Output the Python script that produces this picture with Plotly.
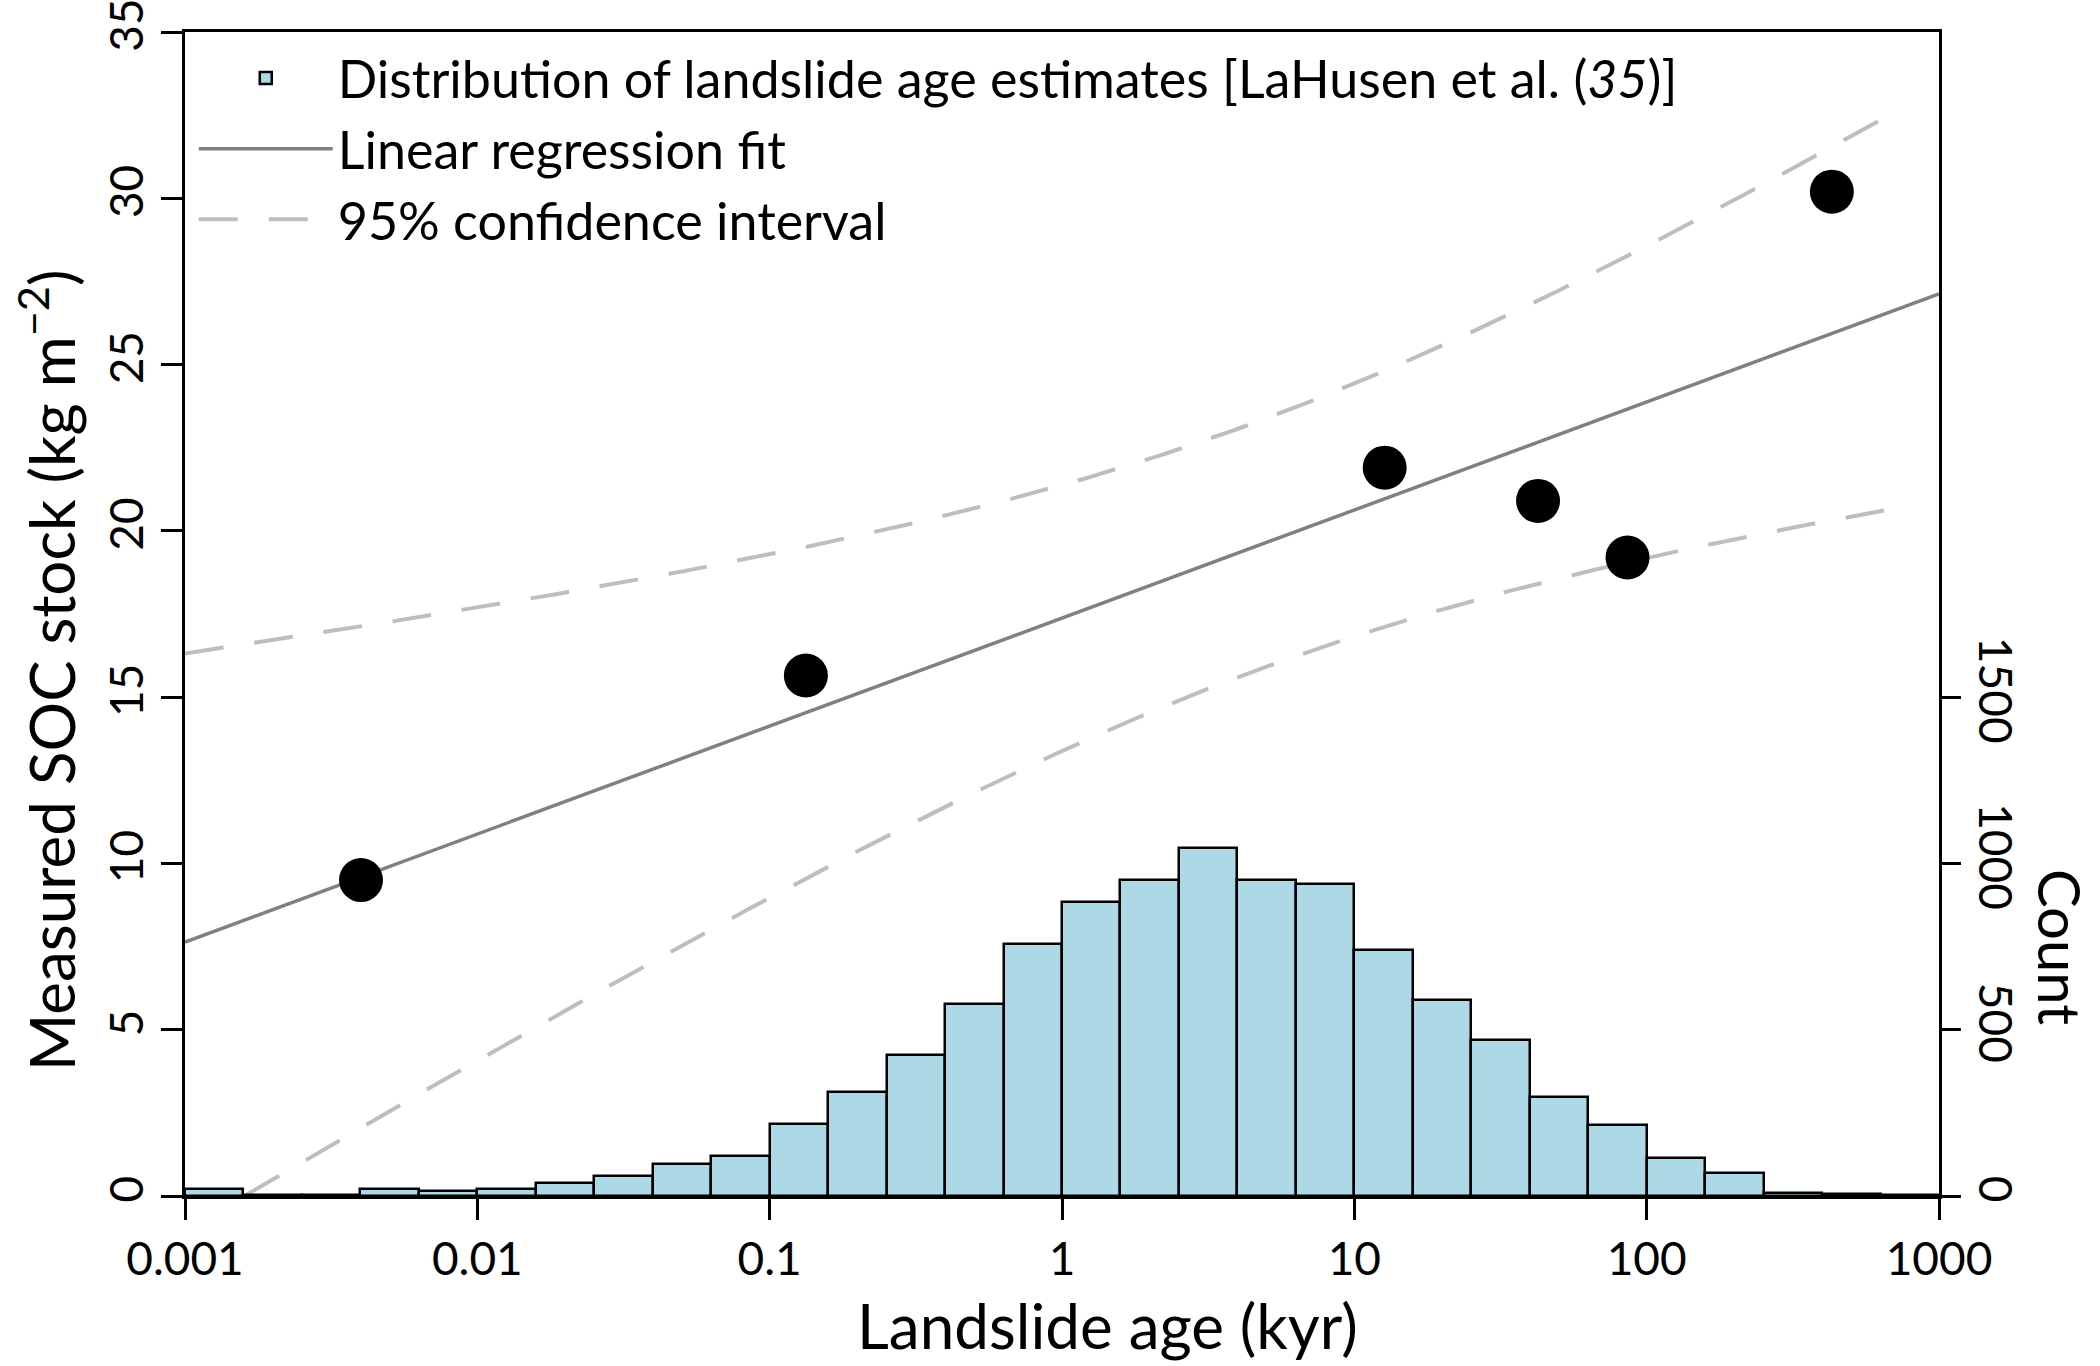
import numpy as np
import plotly.graph_objects as go

# ---------------- data ----------------
# Measured soil organic carbon stock at dated landslides
age_kyr = [0.0040, 0.133, 12.7, 42.5, 86.0, 430.0]
soc_stock = [9.5, 15.65, 21.9, 20.9, 19.2, 30.2]

# Distribution of landslide age estimates [LaHusen et al. (35)] - log10 bins
hist_bin_edges_log10 = [-3.0, -2.8, -2.6, -2.4, -2.2, -2.0, -1.8, -1.6, -1.4, -1.2,
                        -1.0, -0.8, -0.6, -0.4, -0.2, 0.0, 0.2, 0.4, 0.6, 0.8,
                        1.0, 1.2, 1.4, 1.6, 1.8, 2.0, 2.2, 2.4, 2.6, 2.8, 3.0]
hist_counts = [22, 4, 4, 20, 15, 21, 40, 59, 95, 121,
               217, 313, 423, 577, 758, 883, 950, 1045, 950, 938,
               741, 589, 468, 299, 214, 114, 68, 8, 5, 2]

# axis definitions
x_tick_vals = [0.001, 0.01, 0.1, 1, 10, 100, 1000]
x_tick_text = ["0.001", "0.01", "0.1", "1", "10", "100", "1000"]
y_tick_vals = [0, 5, 10, 15, 20, 25, 30, 35]
count_tick_vals = [0, 500, 1000, 1500]
x_range_kyr = [0.001, 1000]
ci_range_kyr = [0.001, 720]
t_975_df4 = 2.7764

# ---------------- fit ----------------
lx = np.log10(np.array(age_kyr))
yv = np.array(soc_stock)
n = len(lx)
b1, b0 = np.polyfit(lx, yv, 1)
resid = yv - (b0 + b1 * lx)
s = np.sqrt(np.sum(resid ** 2) / (n - 2))
sxx = np.sum((lx - lx.mean()) ** 2)

fit_lx = np.linspace(np.log10(x_range_kyr[0]), np.log10(x_range_kyr[1]), 50)
fit_y = b0 + b1 * fit_lx

ci_lx = np.linspace(np.log10(ci_range_kyr[0]), np.log10(ci_range_kyr[1]), 300)
ci_center = b0 + b1 * ci_lx
ci_half = t_975_df4 * s * np.sqrt(1.0 / n + (ci_lx - lx.mean()) ** 2 / sxx)
ci_up = ci_center + ci_half
ci_lo = ci_center - ci_half

edges = np.array(hist_bin_edges_log10)
bin_centers = (edges[:-1] + edges[1:]) / 2
bin_widths = np.diff(edges)

FONT = "Lato, 'Open Sans', sans-serif"

fig = go.Figure()

fig.add_trace(go.Bar(
    x=bin_centers, y=hist_counts, width=bin_widths,
    xaxis="x2", yaxis="y2",
    marker=dict(color="#ADD8E6", line=dict(color="black", width=2.5)),
    name="Distribution of landslide age estimates [LaHusen et al. (<i>35</i>)]",
    showlegend=True,
))

fig.add_trace(go.Scatter(
    x=10 ** fit_lx, y=fit_y, mode="lines",
    line=dict(color="#808080", width=3.5),
    name="Linear regression fit",
))

fig.add_trace(go.Scatter(
    x=10 ** ci_lx, y=ci_up, mode="lines",
    line=dict(color="#BEBEBE", width=4, dash="39px,31px"),
    name="95% confidence interval", legendgroup="ci",
))
fig.add_trace(go.Scatter(
    x=10 ** ci_lx, y=ci_lo, mode="lines",
    line=dict(color="#BEBEBE", width=4, dash="39px,31px"),
    name="95% confidence interval", legendgroup="ci", showlegend=False,
))

fig.add_trace(go.Scatter(
    x=age_kyr, y=soc_stock, mode="markers",
    marker=dict(color="black", size=44, line=dict(width=0)),
    name="Measured SOC stock", showlegend=False,
))

fig.update_layout(
    width=2100, height=1366,
    margin=dict(l=185, r=161, t=32, b=170, autoexpand=False),
    paper_bgcolor="white", plot_bgcolor="white",
    font=dict(family=FONT, color="black", size=46),
    bargap=0,
    xaxis=dict(
        type="log", range=[np.log10(x_range_kyr[0]), np.log10(x_range_kyr[1])],
        tickvals=x_tick_vals, ticktext=x_tick_text,
        ticks="outside", ticklen=21, tickwidth=3, tickcolor="black",
        showline=True, linewidth=3, linecolor="black", mirror=True,
        showgrid=False, zeroline=False, automargin=False,
        tickfont=dict(size=46), ticklabeloverflow="allow",
    ),
    xaxis2=dict(
        overlaying="x", range=[hist_bin_edges_log10[0], hist_bin_edges_log10[-1]],
        visible=False, showgrid=False, zeroline=False, automargin=False,
    ),
    yaxis=dict(
        range=[0, 35], tickvals=y_tick_vals,
        ticks="outside", ticklen=21, tickwidth=3, tickcolor="black",
        tickangle=-90,
        showline=True, linewidth=3, linecolor="black", mirror=True,
        showgrid=False, zeroline=False, automargin=False,
        tickfont=dict(size=46), ticklabeloverflow="allow",
    ),
    yaxis2=dict(
        overlaying="y", side="right", range=[0, 3500],
        tickvals=count_tick_vals,
        ticks="outside", ticklen=21, tickwidth=3, tickcolor="black",
        tickangle=90, automargin=False,
        showline=False, showgrid=False, zeroline=False,
        tickfont=dict(size=46), ticklabeloverflow="allow",
    ),
    legend=dict(
        x=0.005, y=0.995, xanchor="left", yanchor="top",
        bgcolor="rgba(0,0,0,0)", font=dict(size=52),
        itemwidth=134, tracegroupgap=0,
    ),
    annotations=[
        dict(text="Landslide age (kyr)", xref="paper", yref="paper",
             x=0.526, y=-0.111, showarrow=False,
             font=dict(size=62), xanchor="center", yanchor="middle"),
        dict(text="Measured SOC stock (kg m<sup>−2</sup>)", xref="paper", yref="paper",
             x=-0.079, y=0.452, showarrow=False, textangle=-90,
             font=dict(size=62), xanchor="center", yanchor="middle"),
        dict(text="Count", xref="paper", yref="paper",
             x=1.069, y=0.214, showarrow=False, textangle=90,
             font=dict(size=58), xanchor="center", yanchor="middle"),
    ],
)

fig.write_html("out.html")
